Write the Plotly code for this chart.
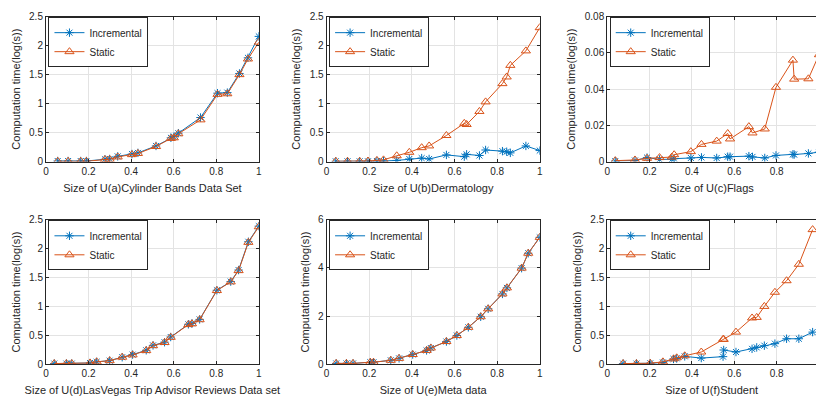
import plotly.graph_objects as go

# ---- data ----
titles = ["Size of U(a)Cylinder Bands Data Set", "Size of U(b)Dermatology", "Size of U(c)Flags",
          "Size of U(d)LasVegas Trip Advisor Reviews Data set", "Size of U(e)Meta data", "Size of U(f)Student"]

xa = [0.055, 0.104, 0.163, 0.19, 0.277, 0.299, 0.337, 0.404, 0.432, 0.517, 0.587, 0.601, 0.622, 0.726, 0.806, 0.852, 0.909, 0.949, 1.0]
inc_a = [0.01, 0.01, 0.01, 0.01, 0.04, 0.045, 0.09, 0.13, 0.15, 0.27, 0.41, 0.43, 0.49, 0.76, 1.18, 1.19, 1.52, 1.79, 2.16]
sta_a = [0.005, 0.005, 0.005, 0.005, 0.035, 0.04, 0.08, 0.12, 0.14, 0.26, 0.40, 0.41, 0.48, 0.72, 1.16, 1.17, 1.50, 1.77, 2.06]

xb = [0.043, 0.098, 0.155, 0.194, 0.236, 0.267, 0.329, 0.388, 0.446, 0.481, 0.562, 0.646, 0.657, 0.717, 0.746, 0.825, 0.845, 0.862, 0.935, 1.0]
inc_b = [0.005, 0.005, 0.005, 0.005, 0.01, 0.01, 0.02, 0.045, 0.06, 0.045, 0.115, 0.085, 0.125, 0.105, 0.2, 0.18, 0.17, 0.15, 0.27, 0.19]
sta_b = [0.005, 0.005, 0.005, 0.01, 0.02, 0.03, 0.1, 0.16, 0.24, 0.27, 0.45, 0.66, 0.64, 0.865, 1.03, 1.345, 1.46, 1.66, 1.91, 2.31]

xc = [0.038, 0.131, 0.188, 0.247, 0.305, 0.316, 0.395, 0.445, 0.517, 0.569, 0.58, 0.669, 0.686, 0.744, 0.797, 0.877, 0.883, 0.95, 1.0]
inc_c = [0.0003, 0.0006, 0.0022, 0.0012, 0.0013, 0.0016, 0.002, 0.0023, 0.002, 0.0027, 0.0027, 0.003, 0.0026, 0.002, 0.0034, 0.004, 0.0039, 0.0045, 0.0052]
sta_c = [0.0005, 0.0009, 0.0018, 0.0022, 0.0025, 0.0038, 0.0055, 0.0095, 0.0113, 0.0155, 0.0125, 0.0193, 0.0158, 0.018, 0.041, 0.056, 0.0455, 0.0457, 0.059]

xd = [0.039, 0.096, 0.121, 0.207, 0.238, 0.299, 0.358, 0.407, 0.471, 0.503, 0.557, 0.586, 0.669, 0.686, 0.722, 0.803, 0.868, 0.905, 0.951, 1.0]
inc_d = [0.01, 0.01, 0.01, 0.02, 0.04, 0.06, 0.12, 0.165, 0.24, 0.325, 0.38, 0.47, 0.69, 0.705, 0.775, 1.28, 1.43, 1.63, 2.12, 2.39]
sta_d = [0.01, 0.01, 0.01, 0.02, 0.04, 0.06, 0.12, 0.16, 0.235, 0.32, 0.375, 0.465, 0.685, 0.70, 0.77, 1.275, 1.425, 1.62, 2.11, 2.38]

xe = [0.045, 0.093, 0.124, 0.205, 0.22, 0.301, 0.34, 0.404, 0.469, 0.489, 0.562, 0.611, 0.665, 0.723, 0.758, 0.825, 0.846, 0.915, 0.946, 1.0]
inc_e = [0.03, 0.03, 0.03, 0.08, 0.08, 0.16, 0.24, 0.40, 0.57, 0.67, 0.94, 1.19, 1.53, 1.97, 2.30, 2.92, 3.17, 3.99, 4.61, 5.27]
sta_e = [0.03, 0.03, 0.03, 0.08, 0.08, 0.16, 0.24, 0.40, 0.57, 0.67, 0.94, 1.19, 1.53, 1.97, 2.30, 2.92, 3.17, 3.99, 4.61, 5.27]

xf = [0.075, 0.138, 0.203, 0.263, 0.313, 0.328, 0.366, 0.444, 0.547, 0.55, 0.608, 0.684, 0.706, 0.742, 0.792, 0.847, 0.905, 0.97]
inc_f = [0.01, 0.01, 0.015, 0.03, 0.09, 0.10, 0.135, 0.105, 0.13, 0.245, 0.21, 0.265, 0.29, 0.32, 0.355, 0.44, 0.44, 0.555]
sta_f = [0.01, 0.01, 0.015, 0.04, 0.09, 0.11, 0.145, 0.21, 0.43, 0.43, 0.555, 0.80, 0.81, 1.00, 1.245, 1.445, 1.73, 2.33]

xs = [xa, xb, xc, xd, xe, xf]
incs = [inc_a, inc_b, inc_c, inc_d, inc_e, inc_f]
stas = [sta_a, sta_b, sta_c, sta_d, sta_e, sta_f]
y_ranges = [[0, 2.5], [0, 2.5], [0, 0.08], [0, 2.5], [0, 6], [0, 2.5]]
y_dticks = [0.5, 0.5, 0.02, 0.5, 2, 0.5]

# ---- layout geometry ----
W, H = 819, 408
col_dom = [[43.3 / W, 257.7 / W], [326 / W, 540.7 / W], [608.7 / W, 1.0]]
col_xmax = [1, 1, 0.986]
row_dom = [[(H - 160.3) / H, (H - 11) / H], [(H - 369) / H, (H - 220.3) / H]]

BLUE = "#0072BD"
ORANGE = "#D95319"
AX = "#262626"
FONT = "Liberation Sans, Arial, Helvetica, sans-serif"

fig = go.Figure()
layout = dict(width=W, height=H, margin=dict(l=0, r=0, t=0, b=0),
              paper_bgcolor="white", plot_bgcolor="white",
              font=dict(family=FONT, size=10, color=AX))

for i in range(6):
    r, c = divmod(i, 3)
    n = "" if i == 0 else str(i + 1)
    leg = "legend" + n
    fig.add_trace(go.Scatter(x=xs[i], y=incs[i], mode="lines+markers", name="Incremental",
                             xaxis="x" + n, yaxis="y" + n, legend=leg,
                             line=dict(color=BLUE, width=1),
                             marker=dict(symbol="asterisk-open", size=7, color=BLUE, line=dict(color=BLUE, width=1))))
    fig.add_trace(go.Scatter(x=xs[i], y=stas[i], mode="lines+markers", name="Static",
                             xaxis="x" + n, yaxis="y" + n, legend=leg,
                             line=dict(color=ORANGE, width=1),
                             marker=dict(symbol="triangle-up-open", size=8, color=ORANGE, line=dict(color=ORANGE, width=1))))
    layout["xaxis" + n] = dict(domain=col_dom[c], anchor="y" + n, range=[0, col_xmax[c]],
                               tick0=0, dtick=0.2, ticks="inside", ticklen=3, tickcolor=AX,
                               showline=True, linecolor=AX, linewidth=1, mirror="ticks",
                               showgrid=True, gridcolor="#e3e3e3", gridwidth=1, zeroline=False,
                               tickfont=dict(size=10, color=AX),
                               title=dict(text=titles[i], font=dict(size=11, color=AX), standoff=8))
    layout["yaxis" + n] = dict(domain=row_dom[r], anchor="x" + n, range=y_ranges[i],
                               tick0=0, dtick=y_dticks[i], ticks="inside", ticklen=3, tickcolor=AX,
                               showline=True, linecolor=AX, linewidth=1,
                               mirror=("ticks" if c < 2 else False),
                               showgrid=True, gridcolor="#e3e3e3", gridwidth=1, zeroline=False,
                               tickfont=dict(size=10, color=AX),
                               title=dict(text="Computation time(log(s))", font=dict(size=11, color=AX), standoff=6))
    layout[leg] = dict(x=col_dom[c][0] + 2.5 / W, y=row_dom[r][1] - 0.5 / H, xanchor="left", yanchor="top",
                       xref="paper", yref="paper",
                       bgcolor="white", bordercolor=AX, borderwidth=1,
                       font=dict(size=10, color=AX), tracegroupgap=0, itemwidth=30)

fig.update_layout(**layout)
fig.write_html("out.html", config={"displayModeBar": False},
               post_script="document.body.style.margin='0';document.body.style.overflow='hidden';")
